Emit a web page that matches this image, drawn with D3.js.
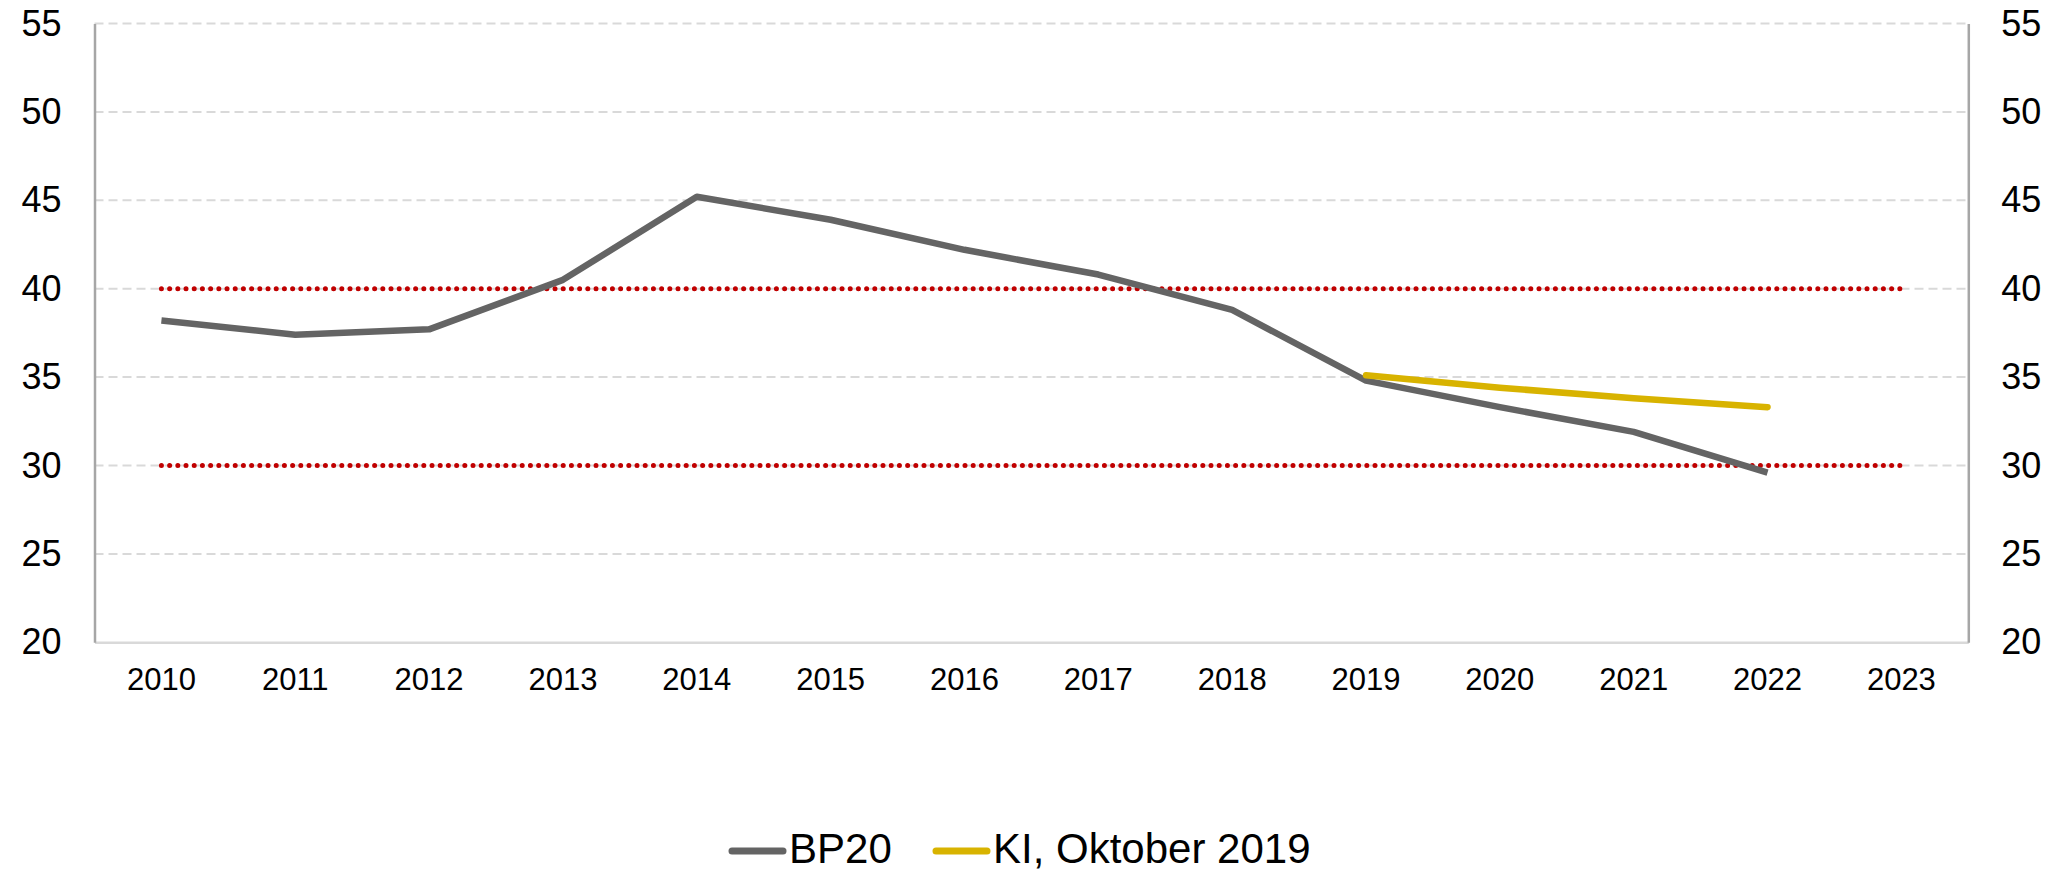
<!DOCTYPE html>
<html>
<head>
<meta charset="utf-8">
<script src="https://cdn.jsdelivr.net/npm/d3@7"></script>
<style>
  body { margin: 0; background: #fff; }
  text { font-family: "Liberation Sans", Arial, sans-serif; fill: #000; }
</style>
</head>
<body>
<div id="chart"></div>
<script>
// data
var years = [2010, 2011, 2012, 2013, 2014, 2015, 2016, 2017, 2018, 2019, 2020, 2021, 2022, 2023];
var bp20 = [38.2, 37.4, 37.7, 40.5, 45.2, 43.9, 42.2, 40.8, 38.8, 34.8, 33.3, 31.9, 29.6];
var kiYears = [2019, 2020, 2021, 2022];
var kiOkt2019 = [35.1, 34.4, 33.8, 33.3];
var yTicks = [20, 25, 30, 35, 40, 45, 50, 55];
var limits = [30, 40];
var seriesNames = ["BP20", "KI, Oktober 2019"];

var W = 2059, H = 871;
var margin = {top: 23.5, right: 90.7, bottom: 228.7, left: 94.5};
var width = W - margin.left - margin.right;
var height = H - margin.top - margin.bottom;

var svg = d3.select("#chart").append("svg")
  .attr("width", W)
  .attr("height", H);

var x = d3.scaleBand().domain(years).range([margin.left, margin.left + width]);
var y = d3.scaleLinear().domain([20, 55]).range([margin.top + height, margin.top]);
var cx = function(d) { return x(d) + x.bandwidth() / 2; };

// gridlines
svg.append("g")
  .selectAll("line")
  .data(yTicks.filter(function(t) { return t > 20; }))
  .enter().append("line")
  .attr("x1", margin.left).attr("x2", margin.left + width)
  .attr("y1", function(d) { return y(d); })
  .attr("y2", function(d) { return y(d); })
  .attr("stroke", "#d9d9d9")
  .attr("stroke-width", 2)
  .attr("stroke-dasharray", "9,5");

// bottom axis
var xAxis = svg.append("g")
  .attr("transform", "translate(0," + y(20) + ")")
  .call(d3.axisBottom(x).tickSize(0).tickPadding(26));
xAxis.select(".domain").attr("stroke", "#d9d9d9").attr("stroke-width", 2.5);
xAxis.selectAll("text").style("font-size", "31px");

// left and right axes
var yLeft = svg.append("g")
  .attr("transform", "translate(" + margin.left + ",0)")
  .call(d3.axisLeft(y).tickValues(yTicks).tickSize(0).tickPadding(33));
var yRight = svg.append("g")
  .attr("transform", "translate(" + (margin.left + width) + ",0)")
  .call(d3.axisRight(y).tickValues(yTicks).tickSize(0).tickPadding(33));
[yLeft, yRight].forEach(function(a) {
  a.select(".domain").attr("stroke", "#a6a6a6").attr("stroke-width", 2.5);
  a.selectAll("text").style("font-size", "36px");
});

// red dotted limit lines
svg.append("g")
  .selectAll("line")
  .data(limits)
  .enter().append("line")
  .attr("x1", cx(years[0]))
  .attr("x2", cx(years[years.length - 1]))
  .attr("y1", function(d) { return y(d); })
  .attr("y2", function(d) { return y(d); })
  .attr("stroke", "#c00000")
  .attr("stroke-width", 5)
  .attr("stroke-linecap", "round")
  .attr("stroke-dasharray", "0,8.2");

var line = d3.line()
  .x(function(d) { return cx(d[0]); })
  .y(function(d) { return y(d[1]); });

svg.append("path")
  .datum(bp20.map(function(v, i) { return [years[i], v]; }))
  .attr("d", line)
  .attr("fill", "none")
  .attr("stroke", "#646464")
  .attr("stroke-width", 6.5)
  .attr("stroke-linejoin", "round");

svg.append("path")
  .datum(kiOkt2019.map(function(v, i) { return [kiYears[i], v]; }))
  .attr("d", line)
  .attr("fill", "none")
  .attr("stroke", "#d8b300")
  .attr("stroke-width", 6.5)
  .attr("stroke-linecap", "round")
  .attr("stroke-linejoin", "round");

// legend
var colors = ["#646464", "#d8b300"];
var legX = [729, 933];
var leg = svg.append("g");
seriesNames.forEach(function(name, i) {
  leg.append("line")
    .attr("x1", legX[i] + 3).attr("x2", legX[i] + 54)
    .attr("y1", 851).attr("y2", 851)
    .attr("stroke", colors[i])
    .attr("stroke-width", 7)
    .attr("stroke-linecap", "round");
  leg.append("text")
    .attr("x", legX[i] + 60)
    .attr("y", 863)
    .style("font-size", "42px")
    .text(name);
});
</script>
</body>
</html>
